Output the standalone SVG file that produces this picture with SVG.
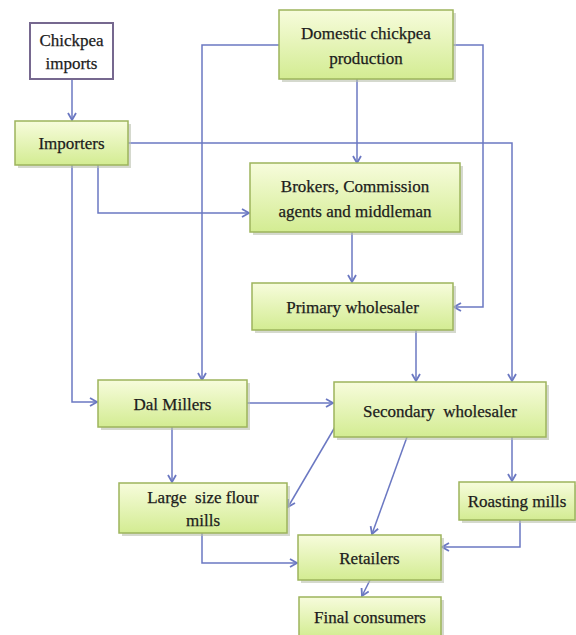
<svg xmlns="http://www.w3.org/2000/svg" width="576" height="635" viewBox="0 0 576 635">
<defs>
<linearGradient id="g" x1="0" y1="0" x2="0" y2="1">
<stop offset="0" stop-color="#f7fcdc"/>
<stop offset="1" stop-color="#d3ec92"/>
</linearGradient>
<marker id="a" markerWidth="10" markerHeight="10" refX="8" refY="5" orient="auto" markerUnits="userSpaceOnUse">
<path d="M1,1 L8,5 L1,9" fill="none" stroke="#6b78c2" stroke-width="1.8"/>
</marker>
</defs>
<style>
.box{fill:url(#g);stroke:#9db45c;stroke-width:1.5}
.sh{fill:#b9bfae;opacity:0.6}
.t{font-size:17px;fill:#1c1c1c;text-anchor:middle;stroke:#1c1c1c;stroke-width:0.25}
.c{fill:none;stroke:#6b78c2;stroke-width:1.5;marker-end:url(#a)}
</style>
<rect width="576" height="635" fill="#ffffff"/>

<g id="connectors">
<path class="c" d="M72,79 V120"/>
<path class="c" d="M279,45 H202 V380"/>
<path class="c" d="M453,45 H483 V307 H454"/>
<path class="c" d="M357,79 V163"/>
<path class="c" d="M128,143 H512 V381"/>
<path class="c" d="M98,165 V213 H249"/>
<path class="c" d="M72,165 V402 H97"/>
<path class="c" d="M352,232 V282"/>
<path class="c" d="M416,330 V381"/>
<path class="c" d="M247,403 H333"/>
<path class="c" d="M172,427 V482"/>
<path class="c" d="M335,427 L288,507"/>
<path class="c" d="M407,437 L372,534"/>
<path class="c" d="M512,437 V481"/>
<path class="c" d="M520,520 V547 H442"/>
<path class="c" d="M202,533 V563 H297"/>
<path class="c" d="M370,580 L362,596"/>
</g>

<g font-family="Liberation Serif, Times New Roman, serif">
<g id="chickpea-imports">
<rect x="30" y="23" width="83" height="56" fill="#ffffff" stroke="#76688f" stroke-width="2"/>
<text class="t" x="71.5" y="46">Chickpea</text>
<text class="t" x="71.5" y="69">imports</text>
</g>

<g id="domestic">
<rect class="sh" x="282" y="13" width="174" height="69"/>
<rect class="box" x="279" y="10" width="174" height="69"/>
<text class="t" x="366" y="39">Domestic chickpea</text>
<text class="t" x="366" y="64">production</text>
</g>

<g id="importers">
<rect class="sh" x="18" y="124" width="113" height="44"/>
<rect class="box" x="15" y="121" width="113" height="44"/>
<text class="t" x="71.5" y="149">Importers</text>
</g>

<g id="brokers">
<rect class="sh" x="253" y="166" width="210" height="69"/>
<rect class="box" x="250" y="163" width="210" height="69"/>
<text class="t" x="355" y="192">Brokers, Commission</text>
<text class="t" x="355" y="217">agents and middleman</text>
</g>

<g id="primary">
<rect class="sh" x="255" y="286" width="201" height="47"/>
<rect class="box" x="252" y="283" width="201" height="47"/>
<text class="t" x="352.5" y="313">Primary wholesaler</text>
</g>

<g id="dal-millers">
<rect class="sh" x="101" y="383" width="149" height="47"/>
<rect class="box" x="98" y="380" width="149" height="47"/>
<text class="t" x="172.5" y="410">Dal Millers</text>
</g>

<g id="secondary">
<rect class="sh" x="337" y="385" width="212" height="55"/>
<rect class="box" x="334" y="382" width="212" height="55"/>
<text class="t" x="440" y="417" xml:space="preserve">Secondary  wholesaler</text>
</g>

<g id="large-flour">
<rect class="sh" x="122" y="486" width="168" height="50"/>
<rect class="box" x="119" y="483" width="168" height="50"/>
<text class="t" x="203" y="503" xml:space="preserve">Large  size flour</text>
<text class="t" x="203" y="526">mills</text>
</g>

<g id="roasting">
<rect class="sh" x="462" y="485" width="116" height="38"/>
<rect class="box" x="459" y="482" width="116" height="38"/>
<text class="t" x="517" y="507">Roasting mills</text>
</g>

<g id="retailers">
<rect class="sh" x="301" y="538" width="143" height="45"/>
<rect class="box" x="298" y="535" width="143" height="45"/>
<text class="t" x="369.5" y="564">Retailers</text>
</g>

<g id="final-consumers">
<rect class="sh" x="302" y="600" width="142" height="40"/>
<rect class="box" x="299" y="597" width="142" height="40"/>
<text class="t" x="370" y="623">Final consumers</text>
</g>
</g>
</svg>
